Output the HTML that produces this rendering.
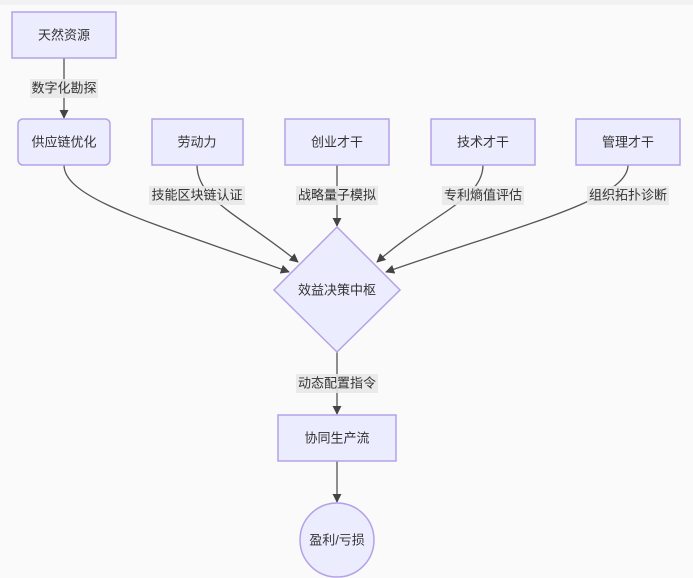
<!DOCTYPE html>
<html><head><meta charset="utf-8"><style>
body{margin:0;background:#f8f8f8;}
svg{display:block;font-family:"Liberation Sans","Noto Sans CJK SC",sans-serif;}
.n{fill:#ececff;stroke:#b4a2e8;stroke-width:1.5;}
.e{fill:none;stroke:#555;stroke-width:1.3;}
.t{font-size:13px;fill:#333;text-anchor:middle;dominant-baseline:central;}
.lb{fill:#e8e8e8;opacity:0.9;}
</style></head><body>
<svg width="693" height="578" viewBox="0 0 693 578">
<defs><marker id="a" viewBox="0 0 10 10" refX="9" refY="5" markerWidth="7" markerHeight="7" orient="auto"><path d="M0,0L10,5L0,10z" fill="#444"/></marker></defs>
<rect x="0" y="0" width="693" height="5" fill="#f2f2f2"/>
<rect x="0" y="5" width="693" height="573" fill="#fafafa"/>
<!-- edges -->
<path class="e" d="M64,58V118" marker-end="url(#a)"/>
<path class="e" d="M64,165C64,200 160,225 289,272" marker-end="url(#a)"/>
<path class="e" d="M197,165C197,200 240,215 298,262" marker-end="url(#a)"/>
<path class="e" d="M337,165V226" marker-end="url(#a)"/>
<path class="e" d="M483,165C483,200 430,215 377,262" marker-end="url(#a)"/>
<path class="e" d="M628,165C628,200 520,225 386,272" marker-end="url(#a)"/>
<path class="e" d="M337,352V414" marker-end="url(#a)"/>
<path class="e" d="M337,461V502" marker-end="url(#a)"/>
<!-- edge labels -->
<rect class="lb" x="30" y="79" width="68" height="19"/><text class="t" x="64" y="88">数字化勘探</text>
<rect class="lb" x="149" y="186" width="96" height="19"/><text class="t" x="197" y="195">技能区块链认证</text>
<rect class="lb" x="296" y="186" width="82" height="19"/><text class="t" x="337" y="195">战略量子模拟</text>
<rect class="lb" x="442" y="186" width="82" height="19"/><text class="t" x="483" y="195">专利熵值评估</text>
<rect class="lb" x="587" y="186" width="82" height="19"/><text class="t" x="628" y="195">组织拓扑诊断</text>
<rect class="lb" x="296" y="374" width="82" height="19"/><text class="t" x="337" y="383">动态配置指令</text>
<!-- nodes -->
<rect class="n" x="12" y="12" width="104" height="46"/><text class="t" x="64" y="35">天然资源</text>
<rect class="n" x="18" y="119" width="92" height="46" rx="5"/><text class="t" x="64" y="142">供应链优化</text>
<rect class="n" x="152" y="119" width="91" height="46"/><text class="t" x="197" y="142">劳动力</text>
<rect class="n" x="285" y="119" width="104" height="46"/><text class="t" x="337" y="142">创业才干</text>
<rect class="n" x="431" y="119" width="104" height="46"/><text class="t" x="483" y="142">技术才干</text>
<rect class="n" x="576" y="119" width="104" height="46"/><text class="t" x="628" y="142">管理才干</text>
<path class="n" d="M337,227L400,290L337,352L274,290Z"/><text class="t" x="337" y="290">效益决策中枢</text>
<rect class="n" x="278" y="415" width="118" height="46"/><text class="t" x="337" y="438">协同生产流</text>
<circle class="n" cx="337" cy="540" r="37"/><text class="t" x="337" y="540">盈利/亏损</text>
</svg>
</body></html>
